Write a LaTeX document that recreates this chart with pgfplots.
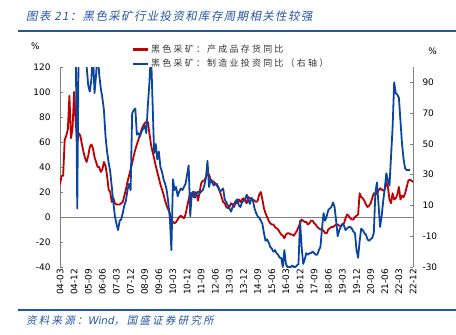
\documentclass[border=0pt]{standalone}
\usepackage{pgfplots}
\pgfplotsset{compat=1.18}
\usepackage{pgfplotstable}
\usepackage{fontspec}
\setmainfont{DejaVu Sans}
\newfontfamily\cjkleg[LetterSpace=25]{Noto Sans CJK SC}
\newfontfamily\cjktitle[FakeSlant=0.2,LetterSpace=12]{Noto Sans CJK SC}
\newfontfamily\cjksrc[FakeSlant=0.2,LetterSpace=22]{Noto Sans CJK SC}
\newfontfamily\latsrc[FakeSlant=0.2]{DejaVu Sans}
\definecolor{wred}{RGB}{192,0,0}
\definecolor{wblue}{RGB}{10,70,160}
\definecolor{tblue}{RGB}{35,85,165}
\definecolor{axgray}{RGB}{128,128,128}

\pgfplotstableread{
m v
0 26
1 33
2 33
3 62
4 65
5 70
6 97
7 63
8 71
9 100
10 76
11 60
12 67
13 65
14 58
15 52
16 47
17 44
18 49
19 56
20 58
21 55
22 48
23 44
24 40
25 40
26 36
27 38
28 44
29 41
30 33
31 22
32 20
33 12
34 15
35 11
36 10
37 10
38 10
39 11
40 12
41 17
42 22
43 28
44 33
45 38
46 43
47 49
48 54
49 58
50 62
51 66
52 70
53 73
54 75
55 76
56 76
57 67
58 58
59 52
60 47
61 41
62 36
63 31
64 26
65 22
66 18
67 13
68 9
69 6
70 3
71 -2
72 -4
73 -5
74 -4
75 -2
76 0
77 1
78 0
79 -1
80 2
81 8
82 14
83 19
84 18
85 16
86 20
87 19
88 13
89 20
90 27
91 29
92 29
93 32
94 34
95 34
96 30
97 29
98 28
99 27
100 25
101 24
102 20
103 16
104 12
105 11
106 8
107 7
108 8
109 11
110 10
111 8
112 12
113 11
114 14
115 12
116 14
117 15
118 13
119 11
120 16
121 15
122 14
123 14
124 13
125 12
126 13
127 18
128 20
129 14
130 7
131 3
132 0
133 -3
134 -5
135 -6
136 -6
137 -8
138 -9
139 -10
140 -12
141 -14
142 -15
143 -17
144 -14
145 -13
146 -13
147 -14
148 -14
149 -15
150 -13
151 -11
152 -8
153 -5
154 -2
155 -3
156 -4
157 -4
158 -6
159 -5
160 -3
161 -3
162 -5
163 -6
164 -8
165 -9
166 -10
167 -10
168 -11
169 -13
170 -13
171 -10
172 -9
173 -8
174 -8
175 -7
176 -6
177 -6
178 -7
179 -7
180 -6
181 -5
182 -1
183 2
184 1
185 -1
186 -2
187 -2
188 0
189 1
190 2
191 19
192 16
193 15
194 13
195 10
196 8
197 9
198 11
199 15
200 19
201 18
202 19
203 21
204 23
205 22
206 21
207 22
208 28
209 24
210 14
211 11
212 19
213 14
214 15
215 18
216 24
217 14
218 17
219 16
220 19
221 24
222 29
223 30
224 29
225 28
}\redtab

\pgfplotstableread{
m v
9 130
10 120
11 8
12 130
13 130
14 130
15 130
16 110
17 100
18 88
19 84
20 92
21 110
22 83
23 95
24 110
25 95
26 86
27 80
28 72
29 55
30 45
31 38
32 32
33 22
34 12
35 3
36 -2
37 -6
38 0
39 1
40 5
41 10
42 13
43 20
44 24
45 20
46 70
47 72
48 73
49 56
50 57
51 55
52 58
53 60
54 62
55 57
56 75
57 90
58 110
59 77
60 44
61 50
62 40
63 45
64 35
65 32
66 27
67 24
68 20
69 12
70 2
71 -19
72 27
73 20
74 22
75 16
76 19
77 21
78 20
79 22
80 24
81 30
82 36
83 3
84 18
85 19
86 15
87 18
88 19
89 18
90 19
91 20
92 23
93 28
94 39
95 22
96 27
97 25
98 23
99 24
100 24
101 21
102 19
103 20
104 21
105 14
106 12
107 10
108 8
109 6
110 9
111 11
112 13
113 14
114 10
115 9
116 12
117 13
118 14
119 17
120 14
121 11
122 15
123 13
124 8
125 5
126 3
127 2
128 0
129 -2
130 -8
131 -13
132 -12
133 -14
134 -17
135 -18
136 -20
137 -19
138 -21
139 -22
140 -24
141 -24
142 -30
143 -19
144 -28
145 -30
146 -30
147 -30
148 -29
149 -30
150 -30
151 -29
152 -28
153 0
154 -17
155 -28
156 -25
157 -21
158 -22
159 -21
160 -21
161 -20
162 -21
163 -22
164 -22
165 -19
166 -17
167 -5
168 5
169 0
170 3
171 7
172 8
173 9
174 12
175 9
176 0
177 -10
178 -6
179 -4
180 -2
181 -3
182 -6
183 -5
184 -4
185 -4
186 -5
187 -7
188 -8
189 -19
190 -24
191 -13
192 -5
193 -6
194 -8
195 -9
196 -12
197 -13
198 -12
199 -11
200 -8
201 18
202 25
203 11
204 -4
205 3
206 13
207 21
208 31
209 26
210 23
211 42
212 61
213 90
214 83
215 82
216 80
217 65
218 50
219 40
220 34
221 33
222 33
223 33
}\bluetab

\begin{document}
\begin{tikzpicture}[x=1bp,y=1bp]
\useasboundingbox (0,0) rectangle (456,334);
\node[anchor=west, text=tblue, inner sep=0pt, font=\cjktitle\fontsize{11.5}{13}\selectfont] at (26,318) {图表 21：黑色采矿行业投资和库存周期相关性较强};
\draw[tblue, line width=1.6bp] (18,303) -- (456,303);
\draw[tblue, line width=1.6bp] (18,24) -- (456,24);
\node[anchor=west, text=tblue, inner sep=0pt, font=\cjksrc\fontsize{10.5}{12}\selectfont] at (26,13) {资料来源：{\latsrc Wind}，国盛证券研究所};
\node[font=\fontsize{9}{11}\selectfont] at (35.5,287.5) {\%};
\node[font=\fontsize{9}{11}\selectfont] at (432.5,282.5) {\%};

\begin{axis}[
  at={(60bp,67bp)}, anchor=south west,
  scale only axis, width=353bp, height=200bp,
  xmin=0, xmax=225, ymin=-40, ymax=120,
  axis y line*=left, axis x line*=bottom,
  x axis line style={draw=none},
  y axis line style={axgray, line width=0.8bp},
  xtick={0,9,...,225},
  xticklabels={04-03,04-12,05-09,06-06,07-03,07-12,08-09,09-06,10-03,10-12,11-09,12-06,13-03,13-12,14-09,15-06,16-03,16-12,17-09,18-06,19-03,19-12,20-09,21-06,22-03,22-12},
  x tick style={draw=none},
  x tick label style={rotate=90, anchor=east, font=\fontsize{9}{11}\selectfont, inner sep=1.5bp},
  ytick={-40,-20,0,20,40,60,80,100,120},
  yticklabels={-40,-20,0,20,40,60,80,100,120},
  y tick style={axgray, line width=0.8bp},
  y tick label style={font=\fontsize{9}{11}\selectfont, xshift=-6bp},
  tick align=inside, major tick length=3bp,
]
\draw[axgray, line width=0.8bp] (axis cs:0,0) -- (axis cs:225,0);
\addplot[wred, line width=1.8bp, line join=round] table[x=m, y=v] {\redtab};
\end{axis}

\begin{axis}[
  at={(60bp,67bp)}, anchor=south west,
  scale only axis, width=353bp, height=200bp,
  xmin=0, xmax=225, ymin=-30, ymax=100,
  axis y line*=right, axis x line=none,
  y axis line style={axgray, line width=0.8bp},
  ytick={-30,-10,10,30,50,70,90},
  yticklabels={-30,-10,10,30,50,70,90},
  y tick style={axgray, line width=0.8bp},
  y tick label style={font=\fontsize{9}{11}\selectfont, xshift=6bp},
  tick align=inside, major tick length=3bp,
  legend style={at={(0.204,1.12)}, anchor=north west, draw=none, fill=none,
    font=\cjkleg\fontsize{9}{10}\selectfont, text=black!80, row sep=1bp, inner sep=0pt,
    nodes={inner xsep=1.5bp}},
  legend cell align=left,
  legend image code/.code={\draw[#1] (0bp,0bp) -- (15bp,0bp);},
]
\addlegendimage{wred, line width=2.5bp}
\addlegendentry{黑色采矿：产成品存货同比}
\addplot[wblue, line width=1.8bp, line join=round] table[x=m, y=v] {\bluetab};
\addlegendentry{黑色采矿：制造业投资同比（右轴）}
\end{axis}
\end{tikzpicture}
\end{document}
